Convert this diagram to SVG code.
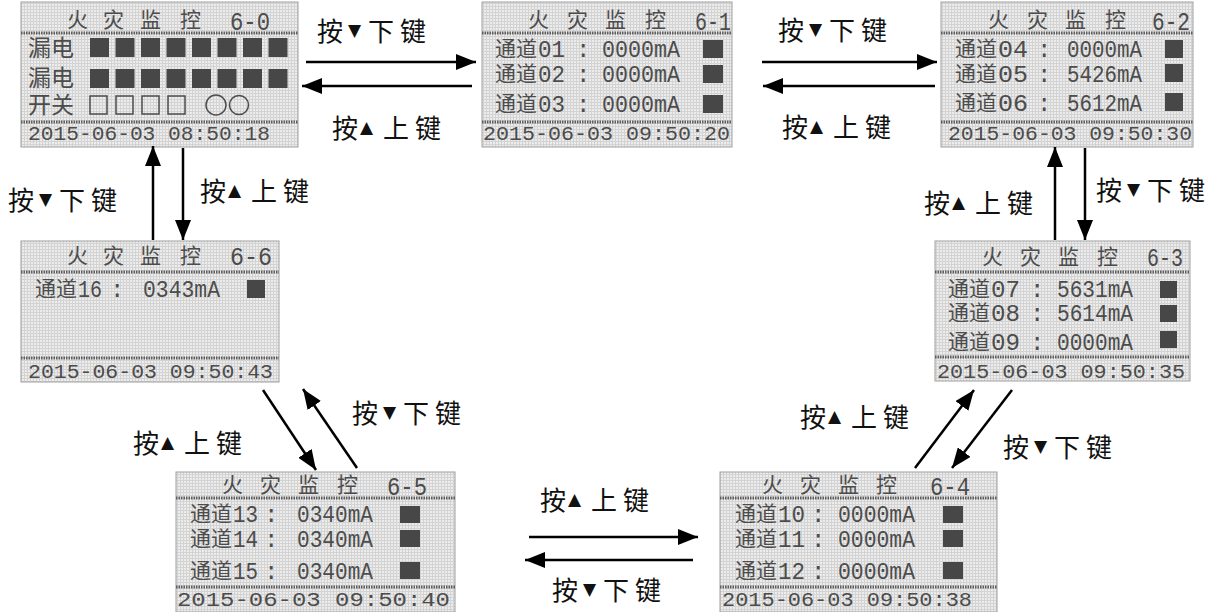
<svg xmlns="http://www.w3.org/2000/svg" width="1216" height="612" viewBox="0 0 1216 612">
<defs>
<pattern id="lcd" width="3" height="3" patternUnits="userSpaceOnUse">
<rect width="3" height="3" fill="#ececec"/>
<path d="M0,0.5 H3 M0.5,0 V3" stroke="#d3d3d3" stroke-width="1"/>
</pattern>
<marker id="ah" markerUnits="userSpaceOnUse" markerWidth="20" markerHeight="16" refX="20" refY="8" orient="auto">
<path d="M0,0 L20,8 L0,16 z" fill="#000"/>
</marker>
<style>
.scr{fill:url(#lcd);stroke:#a0a0a0;stroke-width:1}
.sep{stroke:#5e5e5e;stroke-width:3;stroke-dasharray:1.5 1}
.cj{font-family:"Noto Sans CJK SC",sans-serif;fill:#4c4c4c}
.t{font-size:21px}
.r{font-size:21px}
.mo{font-family:"Liberation Mono",monospace;fill:#4c4c4c}
.n{font-size:24px}
.f{font-size:21px}
.blk{fill:#474747}
.box{fill:none;stroke:#4c4c4c;stroke-width:1.5}
.lbl{font-family:"Noto Sans CJK SC",sans-serif;font-size:26px;fill:#111}
.tri{font-family:"DejaVu Sans",sans-serif;font-size:17px}
.arr{stroke:#000;stroke-width:2.5;fill:none;marker-end:url(#ah)}
</style>
</defs>
<rect width="1216" height="612" fill="#fff"/>

<g id="s6-0">
<rect class="scr" x="21" y="2" width="277" height="145"/>
<line class="sep" x1="21" y1="33" x2="298" y2="33"/>
<line class="sep" x1="21" y1="122" x2="298" y2="122"/>
<text class="cj t" x="67 103 140 180" y="27">火灾监控</text>
<text class="mo" font-size="26" x="230" y="30" textLength="40" lengthAdjust="spacingAndGlyphs">6-0</text>
<text class="cj" font-size="23" x="28" y="56">漏电</text>
<text class="cj" font-size="23" x="28" y="86">漏电</text>
<text class="cj" font-size="23" x="28" y="113">开关</text>
<g class="blk">
<rect x="90" y="38" width="19" height="19"/><rect x="115.5" y="38" width="19" height="19"/><rect x="141" y="38" width="19" height="19"/><rect x="166.5" y="38" width="19" height="19"/><rect x="192" y="38" width="19" height="19"/><rect x="217.5" y="38" width="19" height="19"/><rect x="243" y="38" width="19" height="19"/><rect x="268.5" y="38" width="19" height="19"/>
<rect x="90" y="69" width="19" height="19"/><rect x="115.5" y="69" width="19" height="19"/><rect x="141" y="69" width="19" height="19"/><rect x="166.5" y="69" width="19" height="19"/><rect x="192" y="69" width="19" height="19"/><rect x="217.5" y="69" width="19" height="19"/><rect x="243" y="69" width="19" height="19"/><rect x="268.5" y="69" width="19" height="19"/>
</g>
<g class="box">
<rect x="90" y="96" width="17" height="18"/><rect x="116" y="96" width="17" height="18"/><rect x="142" y="96" width="17" height="18"/><rect x="168" y="96" width="17" height="18"/>
<circle cx="216" cy="105" r="10"/><circle cx="239" cy="105" r="9.5"/>
</g>
<text class="mo f" x="28" y="140" textLength="242" lengthAdjust="spacingAndGlyphs">2015-06-03 08:50:18</text>
</g>

<g id="s6-1">
<rect class="scr" x="482" y="2" width="250" height="145"/>
<line class="sep" x1="482" y1="33" x2="732" y2="33"/>
<line class="sep" x1="482" y1="122" x2="732" y2="122"/>
<text class="cj t" x="528 567 605 645" y="27">火灾监控</text>
<text class="mo" font-size="26" x="695" y="30" textLength="36" lengthAdjust="spacingAndGlyphs">6-1</text>
<text class="cj r" x="495" y="56">通道</text><text class="mo n" x="538" y="57" textLength="27" lengthAdjust="spacingAndGlyphs">01</text><text class="mo n" x="576" y="57">:</text><text class="mo n" x="602" y="57" textLength="78" lengthAdjust="spacingAndGlyphs">0000mA</text>
<text class="cj r" x="495" y="81">通道</text><text class="mo n" x="538" y="82" textLength="27" lengthAdjust="spacingAndGlyphs">02</text><text class="mo n" x="576" y="82">:</text><text class="mo n" x="602" y="82" textLength="78" lengthAdjust="spacingAndGlyphs">0000mA</text>
<text class="cj r" x="495" y="111">通道</text><text class="mo n" x="538" y="112" textLength="27" lengthAdjust="spacingAndGlyphs">03</text><text class="mo n" x="576" y="112">:</text><text class="mo n" x="602" y="112" textLength="78" lengthAdjust="spacingAndGlyphs">0000mA</text>
<g class="blk"><rect x="703" y="40" width="20" height="18"/><rect x="703" y="65" width="20" height="18"/><rect x="703" y="95" width="20" height="18"/></g>
<text class="mo f" x="483" y="140" textLength="247" lengthAdjust="spacingAndGlyphs">2015-06-03 09:50:20</text>
</g>

<g id="s6-2">
<rect class="scr" x="941" y="2" width="252" height="145"/>
<line class="sep" x1="941" y1="33" x2="1193" y2="33"/>
<line class="sep" x1="941" y1="122" x2="1193" y2="122"/>
<text class="cj t" x="988 1027 1065 1105" y="27">火灾监控</text>
<text class="mo" font-size="26" x="1152" y="30" textLength="38" lengthAdjust="spacingAndGlyphs">6-2</text>
<text class="cj r" x="955" y="56">通道</text><text class="mo n" x="998" y="57" textLength="30" lengthAdjust="spacingAndGlyphs">04</text><text class="mo n" x="1037" y="57">:</text><text class="mo n" x="1067" y="57" textLength="75" lengthAdjust="spacingAndGlyphs">0000mA</text>
<text class="cj r" x="955" y="81">通道</text><text class="mo n" x="998" y="82" textLength="30" lengthAdjust="spacingAndGlyphs">05</text><text class="mo n" x="1037" y="82">:</text><text class="mo n" x="1067" y="82" textLength="75" lengthAdjust="spacingAndGlyphs">5426mA</text>
<text class="cj r" x="955" y="110">通道</text><text class="mo n" x="998" y="111" textLength="30" lengthAdjust="spacingAndGlyphs">06</text><text class="mo n" x="1037" y="111">:</text><text class="mo n" x="1067" y="111" textLength="75" lengthAdjust="spacingAndGlyphs">5612mA</text>
<g class="blk"><rect x="1165" y="40" width="18" height="18"/><rect x="1165" y="64" width="18" height="18"/><rect x="1165" y="93" width="18" height="18"/></g>
<text class="mo f" x="948" y="140" textLength="244" lengthAdjust="spacingAndGlyphs">2015-06-03 09:50:30</text>
</g>

<g id="s6-6">
<rect class="scr" x="21" y="241" width="258" height="141"/>
<line class="sep" x1="21" y1="272" x2="279" y2="272"/>
<line class="sep" x1="21" y1="358" x2="279" y2="358"/>
<text class="cj t" x="67 103 140 180" y="263">火灾监控</text>
<text class="mo" font-size="26" x="230" y="265" textLength="42" lengthAdjust="spacingAndGlyphs">6-6</text>
<text class="cj r" x="35" y="296">通道</text><text class="mo n" x="78" y="297" textLength="24" lengthAdjust="spacingAndGlyphs">16</text><text class="mo n" x="110" y="297">:</text><text class="mo n" x="143" y="297" textLength="77" lengthAdjust="spacingAndGlyphs">0343mA</text>
<rect class="blk" x="247" y="280" width="18" height="18"/>
<text class="mo f" x="28" y="378" textLength="245" lengthAdjust="spacingAndGlyphs">2015-06-03 09:50:43</text>
</g>

<g id="s6-3">
<rect class="scr" x="935" y="241" width="255" height="140"/>
<line class="sep" x1="935" y1="272" x2="1190" y2="272"/>
<line class="sep" x1="935" y1="357" x2="1190" y2="357"/>
<text class="cj t" x="982 1020 1058 1097" y="264">火灾监控</text>
<text class="mo" font-size="26" x="1147" y="266" textLength="36" lengthAdjust="spacingAndGlyphs">6-3</text>
<text class="cj r" x="948" y="296">通道</text><text class="mo n" x="991" y="297" textLength="29" lengthAdjust="spacingAndGlyphs">07</text><text class="mo n" x="1030" y="297">:</text><text class="mo n" x="1057" y="297" textLength="76" lengthAdjust="spacingAndGlyphs">5631mA</text>
<text class="cj r" x="948" y="320">通道</text><text class="mo n" x="991" y="321" textLength="29" lengthAdjust="spacingAndGlyphs">08</text><text class="mo n" x="1030" y="321">:</text><text class="mo n" x="1057" y="321" textLength="76" lengthAdjust="spacingAndGlyphs">5614mA</text>
<text class="cj r" x="948" y="349">通道</text><text class="mo n" x="991" y="350" textLength="29" lengthAdjust="spacingAndGlyphs">09</text><text class="mo n" x="1030" y="350">:</text><text class="mo n" x="1057" y="350" textLength="76" lengthAdjust="spacingAndGlyphs">0000mA</text>
<g class="blk"><rect x="1160" y="281" width="17" height="17"/><rect x="1160" y="305" width="17" height="17"/><rect x="1160" y="331" width="17" height="17"/></g>
<text class="mo f" x="937" y="378" textLength="248" lengthAdjust="spacingAndGlyphs">2015-06-03 09:50:35</text>
</g>

<g id="s6-5">
<rect class="scr" x="176" y="472" width="279" height="140"/>
<line class="sep" x1="176" y1="498" x2="455" y2="498"/>
<line class="sep" x1="176" y1="587" x2="455" y2="587"/>
<text class="cj t" x="222 260 298 337" y="492">火灾监控</text>
<text class="mo" font-size="26" x="387" y="495" textLength="40" lengthAdjust="spacingAndGlyphs">6-5</text>
<text class="cj r" x="190" y="521">通道</text><text class="mo n" x="233" y="522" textLength="25" lengthAdjust="spacingAndGlyphs">13</text><text class="mo n" x="264" y="522">:</text><text class="mo n" x="297" y="522" textLength="76" lengthAdjust="spacingAndGlyphs">0340mA</text>
<text class="cj r" x="190" y="546">通道</text><text class="mo n" x="233" y="547" textLength="25" lengthAdjust="spacingAndGlyphs">14</text><text class="mo n" x="264" y="547">:</text><text class="mo n" x="297" y="547" textLength="76" lengthAdjust="spacingAndGlyphs">0340mA</text>
<text class="cj r" x="190" y="578">通道</text><text class="mo n" x="233" y="579" textLength="25" lengthAdjust="spacingAndGlyphs">15</text><text class="mo n" x="264" y="579">:</text><text class="mo n" x="297" y="579" textLength="76" lengthAdjust="spacingAndGlyphs">0340mA</text>
<g class="blk"><rect x="400" y="506" width="20" height="17"/><rect x="400" y="530" width="20" height="17"/><rect x="400" y="562" width="20" height="17"/></g>
<text class="mo f" x="177" y="606" textLength="273" lengthAdjust="spacingAndGlyphs">2015-06-03 09:50:40</text>
</g>

<g id="s6-4">
<rect class="scr" x="720" y="472" width="277" height="140"/>
<line class="sep" x1="720" y1="498" x2="997" y2="498"/>
<line class="sep" x1="720" y1="587" x2="997" y2="587"/>
<text class="cj t" x="762 800 838 876" y="492">火灾监控</text>
<text class="mo" font-size="26" x="930" y="495" textLength="40" lengthAdjust="spacingAndGlyphs">6-4</text>
<text class="cj r" x="735" y="521">通道</text><text class="mo n" x="778" y="522" textLength="27" lengthAdjust="spacingAndGlyphs">10</text><text class="mo n" x="811" y="522">:</text><text class="mo n" x="838" y="522" textLength="77" lengthAdjust="spacingAndGlyphs">0000mA</text>
<text class="cj r" x="735" y="546">通道</text><text class="mo n" x="778" y="547" textLength="27" lengthAdjust="spacingAndGlyphs">11</text><text class="mo n" x="811" y="547">:</text><text class="mo n" x="838" y="547" textLength="77" lengthAdjust="spacingAndGlyphs">0000mA</text>
<text class="cj r" x="735" y="578">通道</text><text class="mo n" x="778" y="579" textLength="27" lengthAdjust="spacingAndGlyphs">12</text><text class="mo n" x="811" y="579">:</text><text class="mo n" x="838" y="579" textLength="77" lengthAdjust="spacingAndGlyphs">0000mA</text>
<g class="blk"><rect x="943" y="506" width="20" height="17"/><rect x="943" y="530" width="20" height="17"/><rect x="943" y="562" width="20" height="17"/></g>
<text class="mo f" x="722" y="606" textLength="250" lengthAdjust="spacingAndGlyphs">2015-06-03 09:50:38</text>
</g>

<g id="connectors">
<line class="arr" x1="306" y1="62" x2="476" y2="62"/>
<line class="arr" x1="472" y1="86" x2="302" y2="86"/>
<line class="arr" x1="762" y1="62" x2="937" y2="62"/>
<line class="arr" x1="935" y1="86" x2="763" y2="86"/>
<line class="arr" x1="153" y1="240" x2="153" y2="146"/>
<line class="arr" x1="183" y1="148" x2="183" y2="240"/>
<line class="arr" x1="1055" y1="240" x2="1055" y2="147"/>
<line class="arr" x1="1085" y1="148" x2="1085" y2="240"/>
<line class="arr" x1="263" y1="390" x2="316" y2="470"/>
<line class="arr" x1="357" y1="468" x2="303" y2="389"/>
<line class="arr" x1="529" y1="537" x2="698" y2="537"/>
<line class="arr" x1="693" y1="560" x2="525" y2="560"/>
<line class="arr" x1="915" y1="468" x2="974" y2="390"/>
<line class="arr" x1="1012" y1="390" x2="952" y2="468"/>
</g>

<g id="labels">
<text class="lbl" y="41"><tspan x="317">按</tspan><tspan class="tri" x="348" dy="-5">▼</tspan><tspan x="368 400" dy="5">下键</tspan></text>
<text class="lbl" y="138"><tspan x="332">按</tspan><tspan class="tri" x="360" dy="-5">▲</tspan><tspan x="383 415" dy="5">上键</tspan></text>
<text class="lbl" y="40"><tspan x="778">按</tspan><tspan class="tri" x="809" dy="-5">▼</tspan><tspan x="829 861" dy="5">下键</tspan></text>
<text class="lbl" y="137"><tspan x="782">按</tspan><tspan class="tri" x="810" dy="-5">▲</tspan><tspan x="833 865" dy="5">上键</tspan></text>
<text class="lbl" y="210"><tspan x="8">按</tspan><tspan class="tri" x="39" dy="-5">▼</tspan><tspan x="59 91" dy="5">下键</tspan></text>
<text class="lbl" y="201"><tspan x="200">按</tspan><tspan class="tri" x="228" dy="-5">▲</tspan><tspan x="251 283" dy="5">上键</tspan></text>
<text class="lbl" y="213"><tspan x="924">按</tspan><tspan class="tri" x="952" dy="-5">▲</tspan><tspan x="975 1007" dy="5">上键</tspan></text>
<text class="lbl" y="200"><tspan x="1096">按</tspan><tspan class="tri" x="1127" dy="-5">▼</tspan><tspan x="1147 1179" dy="5">下键</tspan></text>
<text class="lbl" y="453"><tspan x="133">按</tspan><tspan class="tri" x="161" dy="-5">▲</tspan><tspan x="184 216" dy="5">上键</tspan></text>
<text class="lbl" y="423"><tspan x="352">按</tspan><tspan class="tri" x="383" dy="-5">▼</tspan><tspan x="403 435" dy="5">下键</tspan></text>
<text class="lbl" y="510"><tspan x="540">按</tspan><tspan class="tri" x="568" dy="-5">▲</tspan><tspan x="591 623" dy="5">上键</tspan></text>
<text class="lbl" y="600"><tspan x="552">按</tspan><tspan class="tri" x="583" dy="-5">▼</tspan><tspan x="603 635" dy="5">下键</tspan></text>
<text class="lbl" y="427"><tspan x="800">按</tspan><tspan class="tri" x="828" dy="-5">▲</tspan><tspan x="851 883" dy="5">上键</tspan></text>
<text class="lbl" y="457"><tspan x="1003">按</tspan><tspan class="tri" x="1034" dy="-5">▼</tspan><tspan x="1054 1086" dy="5">下键</tspan></text>
</g>
</svg>
